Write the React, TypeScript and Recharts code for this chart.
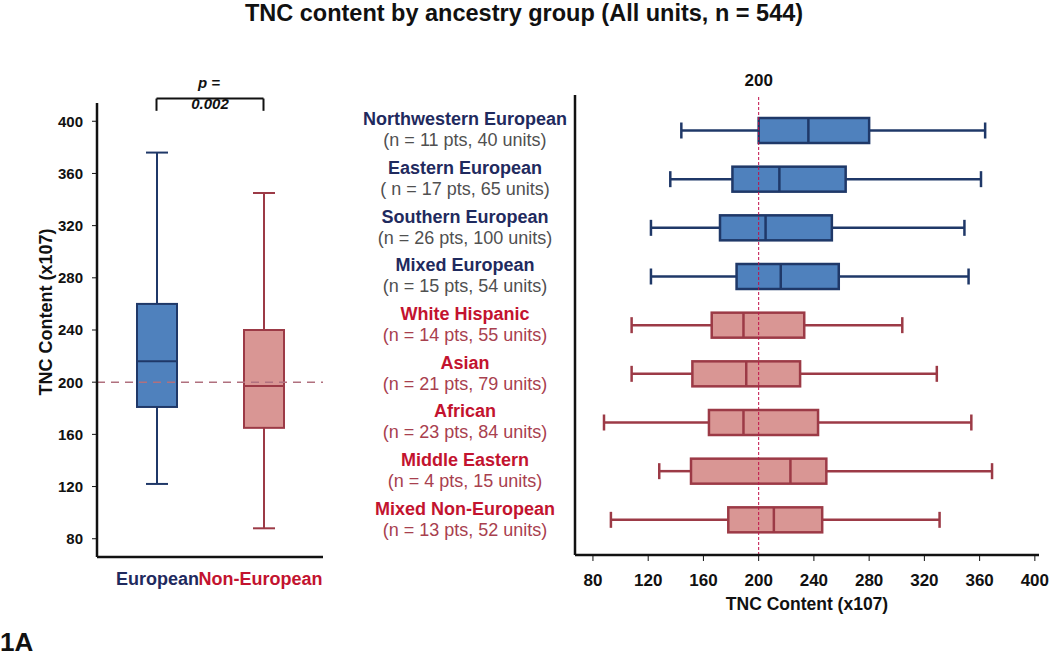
import React from "react";
import {
  ComposedChart,
  Bar,
  XAxis,
  YAxis,
  ReferenceLine,
} from "recharts";

const FONT = "'Liberation Sans', Arial, sans-serif";

// left panel: all units, two pooled groups
const overallNames = ["European", "Non-European"];
const overallMin = [122, 88];
const overallQ1 = [181, 165];
const overallMedian = [216, 197];
const overallQ3 = [260, 240];
const overallMax = [376, 345];

// right panel: per ancestry group
const groupNames = [
  "Northwestern European",
  "Eastern European",
  "Southern European",
  "Mixed European",
  "White Hispanic",
  "Asian",
  "African",
  "Middle Eastern",
  "Mixed Non-European",
];
const groupCounts = [
  "(n = 11 pts, 40 units)",
  "( n = 17 pts, 65 units)",
  "(n = 26 pts, 100 units)",
  "(n = 15 pts, 54 units)",
  "(n = 14 pts, 55 units)",
  "(n = 21 pts, 79 units)",
  "(n = 23 pts, 84 units)",
  "(n = 4 pts, 15 units)",
  "(n = 13 pts, 52 units)",
];
const groupIsEuropean = [true, true, true, true, false, false, false, false, false];
const groupMin = [144, 136, 122, 122, 108, 108, 88, 128, 93];
const groupQ1 = [200, 181, 172, 184, 166, 152, 164, 151, 178];
const groupMedian = [236, 215, 205, 216, 189, 191, 189, 223, 211];
const groupQ3 = [280, 263, 253, 258, 233, 230, 243, 249, 246];
const groupMax = [364, 361, 349, 352, 304, 329, 354, 369, 331];

const tncTicks = [80, 120, 160, 200, 240, 280, 320, 360, 400];

const blue = { fill: "#4f81bd", stroke: "#1f3868", whisker: "#1f3868", name: "#1f2a5e", count: "#505050" };
const red = { fill: "#d99694", stroke: "#9c3a46", whisker: "#9c3a46", name: "#c3132f", count: "#a8404e" };

const overallData = overallNames.map((name, i) => ({
  name,
  min: overallMin[i],
  q1: overallQ1[i],
  median: overallMedian[i],
  q3: overallQ3[i],
  max: overallMax[i],
  euro: i === 0,
}));

const groupData = groupNames.map((name, i) => ({
  name,
  count: groupCounts[i],
  min: groupMin[i],
  q1: groupQ1[i],
  median: groupMedian[i],
  q3: groupQ3[i],
  max: groupMax[i],
  euro: groupIsEuropean[i],
}));

// vertical box: the bar spans min..max, the rest is placed linearly inside it
const VBox = (props: any) => {
  const { x, y, width, height } = props;
  const d = props.payload ?? props;
  const c = d.euro ? blue : red;
  const top = Math.min(y, y + height);
  const h = Math.abs(height);
  const py = (v: number) => top + h - ((v - d.min) / (d.max - d.min)) * h;
  const cx = x + width / 2;
  const cap = 11;
  return (
    <g>
      <line x1={cx} x2={cx} y1={py(d.max)} y2={py(d.q3)} stroke={c.whisker} strokeWidth={2} />
      <line x1={cx} x2={cx} y1={py(d.q1)} y2={py(d.min)} stroke={c.whisker} strokeWidth={2} />
      <line x1={cx - cap} x2={cx + cap} y1={py(d.max)} y2={py(d.max)} stroke={c.whisker} strokeWidth={2} />
      <line x1={cx - cap} x2={cx + cap} y1={py(d.min)} y2={py(d.min)} stroke={c.whisker} strokeWidth={2} />
      <rect x={x} y={py(d.q3)} width={width} height={py(d.q1) - py(d.q3)} fill={c.fill} stroke={c.stroke} strokeWidth={2} />
      <line x1={x} x2={x + width} y1={py(d.median)} y2={py(d.median)} stroke={c.stroke} strokeWidth={2} />
    </g>
  );
};

// horizontal box for the per-group panel
const HBox = (props: any) => {
  const { x, y, width, height } = props;
  const d = props.payload ?? props;
  const c = d.euro ? blue : red;
  const left = Math.min(x, x + width);
  const w = Math.abs(width);
  const px = (v: number) => left + ((v - d.min) / (d.max - d.min)) * w;
  const cy = y + height / 2;
  const cap = 8;
  return (
    <g>
      <line x1={px(d.min)} x2={px(d.q1)} y1={cy} y2={cy} stroke={c.whisker} strokeWidth={2.5} />
      <line x1={px(d.q3)} x2={px(d.max)} y1={cy} y2={cy} stroke={c.whisker} strokeWidth={2.5} />
      <line x1={px(d.min)} x2={px(d.min)} y1={cy - cap} y2={cy + cap} stroke={c.whisker} strokeWidth={2.5} />
      <line x1={px(d.max)} x2={px(d.max)} y1={cy - cap} y2={cy + cap} stroke={c.whisker} strokeWidth={2.5} />
      <rect x={px(d.q1)} y={y} width={px(d.q3) - px(d.q1)} height={height} fill={c.fill} stroke={c.stroke} strokeWidth={2.5} />
      <line x1={px(d.median)} x2={px(d.median)} y1={y} y2={y + height} stroke={c.stroke} strokeWidth={2.5} />
    </g>
  );
};

const OverallTick = (props: any) => {
  const { x, y, payload } = props;
  const euro = payload.value === "European";
  const c = euro ? blue : red;
  return (
    <text x={euro ? x + 1 : x - 3} y={y + 20} textAnchor="middle" fontFamily={FONT} fontWeight="bold" fontSize={18} fill={c.name}>
      {payload.value}
    </text>
  );
};

const GroupTick = (props: any) => {
  const { x, y, payload } = props;
  const i = groupNames.indexOf(payload.value);
  const c = groupIsEuropean[i] ? blue : red;
  return (
    <g>
      <text x={x - 110} y={y - 5} textAnchor="middle" fontFamily={FONT} fontWeight="bold" fontSize={18} fill={c.name}>
        {payload.value}
      </text>
      <text x={x - 110} y={y + 16} textAnchor="middle" fontFamily={FONT} fontSize={18} fill={c.count}>
        {groupCounts[i]}
      </text>
    </g>
  );
};

const abs = (s: React.CSSProperties): React.CSSProperties => ({ position: "absolute", ...s });

export default function App() {
  return (
    <div style={{ position: "absolute", left: 0, top: 0, width: 1050, height: 657, background: "#fff", fontFamily: FONT, overflow: "hidden" }}>
      <div style={abs({ left: 0, top: 0, width: 1048, textAlign: "center", fontSize: 23.5, fontWeight: "bold", lineHeight: "26px", color: "#111" })}>
        TNC content by ancestry group (All units, n = 544)
      </div>

      {/* left panel */}
      <div style={abs({ left: 0, top: 0 })}>
        <ComposedChart width={340} height={600} data={overallData} margin={{ top: 103, right: 17, bottom: 13, left: 0 }}>
          <XAxis
            dataKey="name"
            type="category"
            height={30}
            padding={{ left: 6, right: 6 }}
            axisLine={{ stroke: "#111", strokeWidth: 2.5 }}
            tickLine={false}
            tick={<OverallTick />}
            interval={0}
          />
          <YAxis
            type="number"
            width={97}
            domain={[66, 414]}
            ticks={tncTicks}
            axisLine={{ stroke: "#111", strokeWidth: 2.5 }}
            tickLine={{ stroke: "#111" }}
            tickSize={5}
            tickMargin={9}
            tick={{ fontFamily: FONT, fontWeight: "bold", fontSize: 15, fill: "#111" }}
          />
          <ReferenceLine y={200} stroke="#b0707e" strokeWidth={1.5} strokeDasharray="8 6" />
          <Bar dataKey={(d: any) => [d.min, d.max]} barSize={40} shape={<VBox />} isAnimationActive={false} />
          <ReferenceLine
            ifOverflow="visible"
            segment={[{ x: "European", y: 417.4 }, { x: "Non-European", y: 417.4 }]}
            stroke="#111"
            strokeWidth={2}
          />
          <ReferenceLine
            ifOverflow="visible"
            segment={[{ x: "European", y: 417.4 }, { x: "European", y: 408 }]}
            stroke="#111"
            strokeWidth={2}
          />
          <ReferenceLine
            ifOverflow="visible"
            segment={[{ x: "Non-European", y: 417.4 }, { x: "Non-European", y: 408 }]}
            stroke="#111"
            strokeWidth={2}
          />
        </ComposedChart>
      </div>
      <div style={abs({ left: 46, top: 312, transform: "translate(-50%, -50%) rotate(-90deg)", whiteSpace: "nowrap", fontSize: 18, fontWeight: "bold", color: "#111" })}>
        TNC Content (x107)
      </div>
      <div style={abs({ left: 209, top: 82, transform: "translate(-50%, -50%)", whiteSpace: "nowrap", fontSize: 15, fontWeight: "bold", fontStyle: "italic", color: "#111" })}>
        p =
      </div>
      <div style={abs({ left: 210, top: 103, transform: "translate(-50%, -50%)", whiteSpace: "nowrap", fontSize: 15, fontWeight: "bold", fontStyle: "italic", color: "#111" })}>
        0.002
      </div>

      {/* right panel */}
      <div style={abs({ left: 350, top: 0 })}>
        <ComposedChart layout="vertical" width={700} height={657} data={groupData} margin={{ top: 95, right: 11, bottom: 42, left: 0 }}>
          <XAxis
            type="number"
            domain={[67, 403]}
            ticks={tncTicks}
            height={60}
            axisLine={{ stroke: "#111", strokeWidth: 2.5 }}
            tickLine={{ stroke: "#111" }}
            tickSize={6}
            tickMargin={13}
            tick={{ fontFamily: FONT, fontWeight: "bold", fontSize: 17, fill: "#111" }}
            label={{ value: "TNC Content (x107)", position: "insideBottom", offset: 5, fontFamily: FONT, fontWeight: "bold", fontSize: 17.5, fill: "#111" }}
          />
          <YAxis
            type="category"
            dataKey="name"
            width={225}
            padding={{ top: 11, bottom: 11 }}
            axisLine={{ stroke: "#111", strokeWidth: 2.5 }}
            tickLine={false}
            tickSize={0}
            tickMargin={0}
            interval={0}
            tick={<GroupTick />}
          />
          <ReferenceLine
            x={200}
            stroke="#c0104a"
            strokeWidth={1}
            strokeDasharray="3 2"
            label={{ value: "200", position: "top", offset: 9, fontFamily: FONT, fontWeight: "bold", fontSize: 17, fill: "#111" }}
          />
          <Bar dataKey={(d: any) => [d.min, d.max]} barSize={25} shape={<HBox />} isAnimationActive={false} />
        </ComposedChart>
      </div>

      <div style={abs({ left: 0, top: 627, fontSize: 26, fontWeight: "bold", lineHeight: "30px", color: "#111" })}>1A</div>
    </div>
  );
}
